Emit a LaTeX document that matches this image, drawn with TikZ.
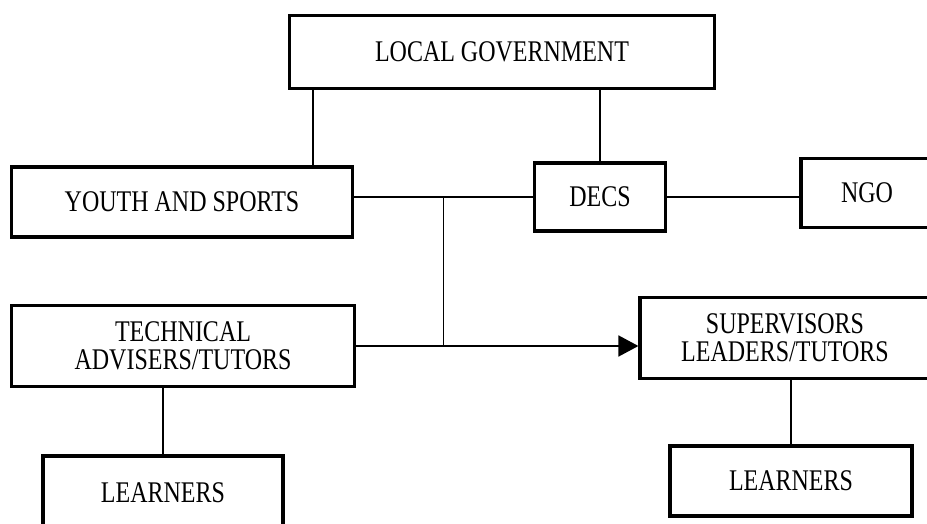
\documentclass[tikz,border=0pt]{standalone}
\usepackage{fontspec}
\setmainfont{Liberation Serif}[FakeStretch=0.8]
\usetikzlibrary{arrows.meta, positioning, calc}
\tikzset{
  >=latex,
  % Collegamenti
  connect/.style={line width=1.8pt, black},
  connect arrow/.style={-{Triangle[length=20pt,width=21pt]}, line width=1.8pt, black}
}

\begin{document}
\begin{tikzpicture}[x=1pt, y=-1pt, font=\fontsize{30}{28}\selectfont,
    box/.style={draw, line width=3.2pt, align=center, inner sep=0pt}]
    \useasboundingbox (0,0) rectangle (927,524);
    \clip (0,0) rectangle (927,524);
    \node[box, minimum width=425pt, minimum height=73pt] (lg) at (502,52) {LOCAL GOVERNMENT};
    \node[box, minimum width=341pt, minimum height=70pt] (yas) at (182,202) {YOUTH AND SPORTS};
    \node[box, minimum width=131pt, minimum height=68pt] (decs) at (600,197) {DECS};
    \node[box, minimum width=132pt, minimum height=69pt] (ngo) at (867,193) {NGO};
    \node[box, minimum width=343pt, minimum height=81pt] (tech) at (183,346) {TECHNICAL\\ADVISERS/TUTORS};
    \node[box, minimum width=290pt, minimum height=81pt] (sup) at (785,338) {SUPERVISORS\\LEADERS/TUTORS};
    \node[box, minimum width=240pt, minimum height=74pt] (learnL) at (163,493) {LEARNERS};
    \node[box, minimum width=242pt, minimum height=70pt] (learnR) at (791,481) {LEARNERS};
    \coordinate (lgleft) at ([xshift=25pt]lg.south west);
    \draw[connect] (lgleft) -- (lgleft |- yas.north);
    \draw[connect] (decs.north) -- (decs.north |- lg.south);
    \draw[connect] (yas.east |- decs.west) -- (decs.west);
    \coordinate (split) at ($(yas.east |- decs.west)!0.5!(decs.west)$);
    \draw[connect] (split) -- (split |- tech.east);
    \draw[connect] (decs.east) -- (decs.east -| ngo.west);
    \draw[connect arrow] (tech.east) -- (tech.east -| sup.west);
    \draw[connect] (learnL.north) -- (learnL.north |- tech.south);
    \draw[connect] (learnR.north) -- (learnR.north |- sup.south);
  \end{tikzpicture}
\end{document}
